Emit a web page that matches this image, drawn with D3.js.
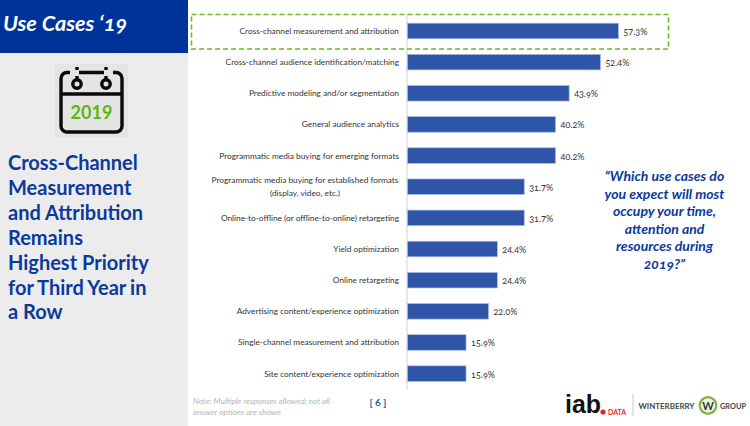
<!DOCTYPE html>
<html><head><meta charset="utf-8">
<script src="https://cdnjs.cloudflare.com/ajax/libs/d3/7.8.5/d3.min.js"></script>
<style>html,body{margin:0;padding:0;background:#fff}svg{display:block}text{font-family:"Lato",sans-serif}.old{font-variant-numeric:oldstyle-nums;font-feature-settings:"onum" 1}</style>
</head><body><svg id="c" width="750" height="426"></svg>
<script>
const categories=[["Cross-channel measurement and attribution"],["Cross-channel audience identification/matching"],["Predictive modeling and/or segmentation"],["General audience analytics"],["Programmatic media buying for emerging formats"],["Programmatic media buying for established formats","(display, video, etc.)"],["Online-to-offline (or offline-to-online) retargeting"],["Yield optimization"],["Online retargeting"],["Advertising content/experience optimization"],["Single-channel measurement and attribution"],["Site content/experience optimization"]];
const values=[57.3,52.4,43.9,40.2,40.2,31.7,31.7,24.4,24.4,22.0,15.9,15.9];
const headingLines=["Cross-Channel","Measurement","and Attribution","Remains","Highest Priority","for Third Year in","a Row"];
const questionLines=["“Which use cases do","you expect will most","occupy your time,","attention and","resources during","2019?”"];
const noteLines=["Note: Multiple responses allowed; not all","answer options are shown"];
const svg=d3.select("#c");
const x=d3.scaleLinear().domain([0,57.3]).range([407.5,618.5]);
const y=d3.scaleBand().domain(d3.range(categories.length)).range([15.4,389.2]).paddingInner(0.5).paddingOuter(0.25);
svg.append("rect").attr("x",0).attr("y",0).attr("width",188).attr("height",426).attr("fill","#ececec");
svg.append("rect").attr("x",0).attr("y",0).attr("width",188).attr("height",53).attr("fill","#003399");
svg.append("text").attr("class","old").attr("x",3).attr("y",31).attr("fill","#fff").attr("font-size",21.7).attr("font-style","italic").attr("font-weight",700).text("Use Cases ‘19");
svg.append("rect").attr("x",55).attr("y",64).attr("width",73).attr("height",73).attr("fill","#e4e4e4");
const ic=svg.append("g").attr("fill","none").attr("stroke","#0a0a0a").attr("stroke-width",3.4);
ic.append("rect").attr("x",61).attr("y",72.5).attr("width",61).attr("height",59.5).attr("rx",6);
ic.append("line").attr("x1",61).attr("x2",122).attr("y1",94).attr("y2",94);
svg.append("rect").attr("x",70).attr("y",70).attr("width",9).attr("height",6).attr("fill","#e4e4e4");
svg.append("rect").attr("x",104).attr("y",70).attr("width",9).attr("height",6).attr("fill","#e4e4e4");
[77,106].forEach(cx=>{
 ic.append("circle").attr("cx",cx).attr("cy",84).attr("r",4.2).attr("fill","#e4e4e4");
 ic.append("line").attr("x1",cx).attr("x2",cx).attr("y1",67).attr("y2",80);
});
svg.append("text").attr("x",91.5).attr("y",118.5).attr("text-anchor","middle").attr("fill","#5cb80a").attr("font-size",18).attr("font-weight",700).text("2019");
svg.append("g").selectAll("text").data(headingLines).join("text").attr("x",8).attr("y",(d,i)=>170+i*24.9).attr("fill","#0a3a9c").attr("font-size",20).attr("font-weight",700).attr("word-spacing",(d,i)=>i==5?-.6:0).text(d=>d);
svg.append("line").attr("x1",407).attr("x2",407).attr("y1",14).attr("y2",390).attr("stroke","#d9d9d9").attr("stroke-width",1.2);
svg.append("g").selectAll("rect").data(values).join("rect").attr("x",x(0)).attr("y",(d,i)=>y(i)).attr("width",d=>x(d)-x(0)).attr("height",y.bandwidth()).attr("fill","#2f55a8").attr("stroke","#a9bde3").attr("stroke-width",.7);
const lab=svg.append("g").selectAll("text").data(categories).join("text").attr("text-anchor",d=>d.length>1?"middle":"end").attr("fill","#333").attr("font-size",8.3);
lab.each(function(d,i){
 const c=y(i)+y.bandwidth()/2, t=d3.select(this);
 d.forEach((s,k)=>{
  t.append("tspan").attr("x",d.length>1?305:399).attr("y",c+3-(d.length-1)*6.5+k*13).text(s);
 });
});
svg.append("g").selectAll("text").data(values).join("text").attr("class","old").attr("x",d=>x(d)+5).attr("y",(d,i)=>y(i)+y.bandwidth()/2+4).attr("fill","#333").attr("font-size",9).text(d=>d.toFixed(1)+"%");
svg.append("rect").attr("x",191.5).attr("y",14.5).attr("width",477).attr("height",34.5).attr("fill","none").attr("stroke","#6cbb22").attr("stroke-width",1.6).attr("stroke-dasharray","5 3");
svg.append("g").selectAll("text").data(questionLines).join("text").attr("class","old").attr("x",664.5).attr("y",(d,i)=>181+i*17.6).attr("text-anchor","middle").attr("fill","#0a3a9c").attr("font-size",14).attr("font-weight",700).attr("font-style","italic").text(d=>d);
svg.append("g").selectAll("text").data(noteLines).join("text").attr("x",193).attr("y",(d,i)=>404+i*10.5).attr("fill","#b5b5b5").attr("font-size",8.2).attr("font-style","italic").text(d=>d);
svg.append("text").attr("x",378).attr("y",406).attr("text-anchor","middle").attr("fill","#2f55a8").attr("font-size",10).attr("font-weight",700).text("[ 6 ]");
svg.append("text").style("font-family","Liberation Sans").attr("x",565).attr("y",413).attr("fill","#111").attr("font-size",25).attr("font-weight",700).attr("textLength",36).attr("lengthAdjust","spacingAndGlyphs").text("iab");
svg.append("circle").attr("cx",603).attr("cy",412).attr("r",2.6).attr("fill","#e8262a");
svg.append("text").attr("x",608).attr("y",415).attr("fill","#e8262a").attr("font-size",7).attr("font-weight",700).text("DATA");
svg.append("line").attr("x1",633).attr("x2",633).attr("y1",394).attr("y2",416).attr("stroke","#bbb").attr("stroke-width",.8);
svg.append("text").attr("x",638.5).attr("y",409).attr("fill","#444").attr("font-size",7.6).attr("font-weight",700).attr("textLength",56).attr("lengthAdjust","spacingAndGlyphs").text("WINTERBERRY");
svg.append("circle").attr("cx",708).attr("cy",405.5).attr("r",8.3).attr("fill","#f2f2dc").attr("stroke","#7fb04a").attr("stroke-width",2.2);
svg.append("text").attr("x",708).attr("y",409.5).attr("text-anchor","middle").attr("fill","#2e3a40").attr("font-size",11).attr("font-weight",700).text("W");
svg.append("text").attr("x",720).attr("y",409).attr("fill","#444").attr("font-size",7.6).attr("font-weight",700).attr("textLength",26).attr("lengthAdjust","spacingAndGlyphs").text("GROUP");
</script></body></html>
